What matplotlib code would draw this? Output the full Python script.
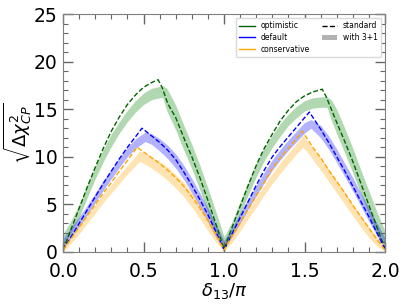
import matplotlib
matplotlib.use("Agg")
import matplotlib.pyplot as plt
from matplotlib.lines import Line2D
from matplotlib.patches import Patch
from matplotlib.ticker import MultipleLocator

# optimistic (green): standard = dashed line, 3+1 = band
g_x_std = [0, 0.05, 0.1, 0.15, 0.2, 0.25, 0.3, 0.35, 0.4, 0.45, 0.5, 0.55, 0.59, 0.615,
           0.65, 0.7, 0.75, 0.8, 0.85, 0.9, 0.95, 1.0,
           1.05, 1.1, 1.15, 1.2, 1.25, 1.3, 1.35, 1.4, 1.45, 1.5, 1.55, 1.61, 1.635,
           1.7, 1.75, 1.8, 1.85, 1.9, 1.95, 2.0]
g_std = [0.2, 2.4, 4.6, 6.8, 8.9, 10.9, 12.7, 14.2, 15.5, 16.5, 17.3, 17.8, 18.1, 17.3,
         15.6, 14.1, 12.0, 10.0, 7.8, 5.4, 2.9, 0.3,
         2.6, 4.8, 7.0, 9.1, 10.9, 12.4, 13.8, 14.9, 15.8, 16.4, 16.8, 17.1, 16.3,
         13.6, 11.6, 9.5, 7.2, 4.9, 2.6, 0.3]
g_x_band = [0, 0.05, 0.1, 0.15, 0.2, 0.25, 0.3, 0.35, 0.4, 0.45, 0.5, 0.55, 0.6, 0.62,
            0.645, 0.7, 0.75, 0.8, 0.85, 0.9, 0.95, 1.0,
            1.05, 1.1, 1.15, 1.2, 1.25, 1.3, 1.35, 1.4, 1.45, 1.5, 1.55, 1.6, 1.64,
            1.665, 1.7, 1.75, 1.8, 1.85, 1.9, 1.95, 2.0]
g_lo = [0.6, 2.0, 3.6, 5.7, 7.7, 9.5, 11.1, 12.5, 13.7, 14.7, 15.5, 16.0, 16.2, 16.2,
        14.8, 12.8, 10.7, 8.7, 6.5, 4.1, 1.9, 0.4,
        1.9, 3.9, 6.0, 7.9, 9.6, 11.0, 12.2, 13.3, 14.1, 14.8, 15.1, 15.2, 15.2,
        13.9, 12.4, 10.4, 8.3, 6.1, 3.9, 1.8, 0.8]
g_hi = [1.9, 3.3, 5.0, 7.1, 9.0, 10.8, 12.4, 13.7, 14.9, 15.9, 16.7, 17.2, 17.4, 17.45,
        17.2, 15.4, 13.3, 11.3, 9.1, 6.7, 4.2, 1.6,
        3.2, 5.3, 7.4, 9.3, 11.0, 12.3, 13.5, 14.5, 15.3, 15.9, 16.2, 16.3, 16.3,
        16.0, 15.0, 13.0, 10.9, 8.6, 6.4, 4.2, 2.2]

# default (blue)
b_x_std = [0, 0.05, 0.1, 0.15, 0.2, 0.25, 0.3, 0.35, 0.4, 0.45, 0.49, 0.55, 0.6,
           0.65, 0.7, 0.75, 0.8, 0.85, 0.9, 0.95, 1.0,
           1.05, 1.1, 1.15, 1.2, 1.25, 1.3, 1.35, 1.4, 1.45, 1.5, 1.53, 1.6,
           1.65, 1.7, 1.75, 1.8, 1.85, 1.9, 1.95, 2.0]
b_std = [0.2, 1.6, 3.0, 4.4, 5.8, 7.2, 8.5, 9.8, 11.0, 12.1, 13.0, 12.2, 11.5,
         10.7, 9.7, 8.4, 7.0, 5.5, 3.9, 2.1, 0.2,
         1.9, 3.6, 5.3, 7.0, 8.6, 10.0, 11.1, 12.1, 13.1, 14.1, 14.7, 12.9,
         11.5, 10.0, 8.5, 6.9, 5.3, 3.7, 2.0, 0.3]
b_x_band = [0, 0.05, 0.1, 0.15, 0.2, 0.25, 0.3, 0.35, 0.4, 0.45, 0.51, 0.55, 0.6,
            0.65, 0.7, 0.75, 0.8, 0.85, 0.9, 0.95, 1.0,
            1.05, 1.1, 1.15, 1.2, 1.25, 1.3, 1.35, 1.4, 1.45, 1.5, 1.54, 1.6,
            1.65, 1.7, 1.75, 1.8, 1.85, 1.9, 1.95, 2.0]
b_lo = [0.3, 1.5, 2.7, 3.9, 5.2, 6.5, 7.7, 8.9, 10.0, 10.9, 11.6, 11.3, 10.6,
        9.8, 8.8, 7.6, 6.2, 4.7, 3.1, 1.5, 0.3,
        1.6, 3.0, 4.5, 5.9, 7.3, 8.6, 9.7, 10.7, 11.6, 12.5, 13.0, 12.0,
        10.8, 9.4, 7.9, 6.4, 4.8, 3.2, 1.7, 0.5]
b_hi = [1.4, 2.6, 3.7, 4.9, 6.2, 7.5, 8.7, 9.9, 11.0, 11.9, 12.6, 12.4, 11.9,
        11.2, 10.3, 9.1, 7.7, 6.2, 4.6, 2.9, 1.2,
        2.6, 4.1, 5.6, 7.0, 8.4, 9.7, 10.8, 11.8, 12.7, 13.6, 13.9, 13.3,
        12.2, 10.8, 9.3, 7.8, 6.2, 4.6, 3.0, 1.5]

# conservative (orange)
o_x_std = [0, 0.05, 0.1, 0.15, 0.2, 0.25, 0.3, 0.35, 0.4, 0.46, 0.5, 0.55, 0.6,
           0.65, 0.7, 0.75, 0.8, 0.85, 0.9, 0.95, 1.0,
           1.05, 1.1, 1.15, 1.2, 1.25, 1.3, 1.35, 1.4, 1.45, 1.485, 1.52, 1.56, 1.6,
           1.65, 1.7, 1.75, 1.8, 1.85, 1.9, 1.95, 2.0]
o_std = [0.2, 1.4, 2.6, 3.8, 5.0, 6.2, 7.3, 8.5, 9.6, 11.0, 10.5, 9.9, 9.3,
         8.6, 7.8, 6.9, 5.8, 4.6, 3.3, 1.8, 0.2,
         1.7, 3.1, 4.5, 5.9, 7.3, 8.8, 9.9, 10.9, 11.9, 12.7, 11.8, 10.8, 9.9,
         8.6, 7.4, 6.2, 4.9, 3.7, 2.5, 1.3, 0.2]
o_x_band = [0, 0.05, 0.1, 0.15, 0.2, 0.25, 0.3, 0.35, 0.4, 0.475, 0.5, 0.55, 0.6,
            0.65, 0.7, 0.75, 0.8, 0.85, 0.9, 0.95, 1.0,
            1.05, 1.1, 1.15, 1.2, 1.25, 1.3, 1.35, 1.4, 1.45, 1.49, 1.52, 1.56, 1.6,
            1.65, 1.7, 1.75, 1.8, 1.85, 1.9, 1.95, 2.0]
o_lo = [0.0, 0.9, 1.9, 3.0, 4.1, 5.2, 6.2, 7.2, 8.2, 9.5, 9.3, 8.8, 8.2,
        7.5, 6.7, 5.8, 4.7, 3.5, 2.2, 1.0, 0.1,
        1.0, 2.2, 3.5, 4.7, 6.0, 7.2, 8.3, 9.3, 10.3, 11.0, 10.4, 9.5, 8.6,
        7.4, 6.2, 5.0, 3.8, 2.6, 1.5, 0.6, 0.1]
o_hi = [0.8, 1.8, 2.8, 3.9, 5.0, 6.1, 7.1, 8.1, 9.1, 10.6, 10.4, 10.0, 9.5,
        8.9, 8.1, 7.3, 6.2, 5.0, 3.6, 2.2, 0.8,
        1.9, 3.1, 4.4, 5.7, 7.0, 8.3, 9.4, 10.4, 11.4, 12.2, 11.6, 10.8, 9.9,
        8.7, 7.5, 6.3, 5.0, 3.8, 2.6, 1.6, 0.8]

series = [
    ("darkgreen", "green", g_x_std, g_std, g_x_band, g_lo, g_hi),
    ("blue", "blue", b_x_std, b_std, b_x_band, b_lo, b_hi),
    ("orange", "orange", o_x_std, o_std, o_x_band, o_lo, o_hi),
]

fig = plt.figure(figsize=(4.07, 3.05), dpi=100)
ax = fig.add_axes([0.155, 0.174, 0.791, 0.780])

for lcol, bcol, xs, ys, xb, lo, hi in series:
    ax.fill_between(xb, lo, hi, color=bcol, alpha=0.3, lw=0)
    ax.plot(xs, ys, "--", color=lcol, lw=1, dashes=(3.5, 1.6))

ax.set_xlim(0, 2)
ax.set_ylim(0, 25)
ax.xaxis.set_major_locator(MultipleLocator(0.5))
ax.xaxis.set_minor_locator(MultipleLocator(0.1))
ax.yaxis.set_major_locator(MultipleLocator(5))
ax.yaxis.set_minor_locator(MultipleLocator(1))
ax.tick_params(which="both", direction="in", top=True, right=True,
               color="0.4", labelsize=13.5)
ax.tick_params(axis="x", pad=7)
ax.tick_params(axis="y", pad=4)
ax.tick_params(which="major", length=7, width=1)
ax.tick_params(which="minor", length=3.5, width=0.8)
for sp in ax.spines.values():
    sp.set_color("0.5")

ax.set_xlabel(r"$\delta_{13}/\pi$", fontsize=13, labelpad=0)
ax.set_ylabel(r"$\sqrt{\Delta\chi^2_{CP}}$", fontsize=13)
ax.yaxis.set_label_coords(-0.09, 0.5)

# legend
handles = [
    Line2D([], [], color="darkgreen", lw=1),
    Line2D([], [], color="blue", lw=1),
    Line2D([], [], color="orange", lw=1),
    Line2D([], [], color="black", ls="--", lw=1),
    Patch(facecolor="gray", alpha=0.6, lw=0),
]
labels = ["optimistic", "default", "conservative", "standard", "with 3+1"]
ax.legend(handles, labels, loc="upper right", ncol=2, fontsize=5.5,
          handlelength=2.0, columnspacing=1.5, labelspacing=0.35,
          borderpad=0.45, framealpha=1, edgecolor="0.85")

fig.savefig("out.png", dpi=100)
